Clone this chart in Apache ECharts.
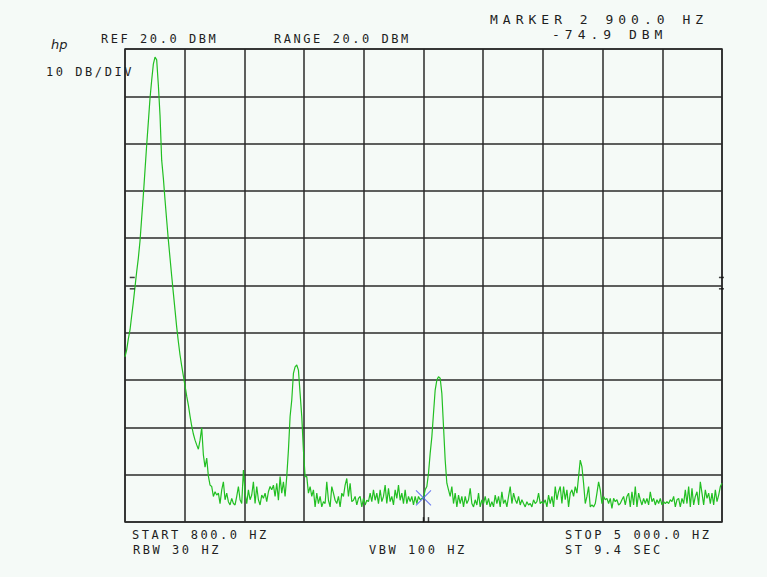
<!DOCTYPE html>
<html><head><meta charset="utf-8">
<script src="https://cdn.jsdelivr.net/npm/echarts@6/dist/echarts.min.js"></script>
<style>
html,body{margin:0;padding:0;background:#f5faf7;}
#c{width:767px;height:577px;}
#c text[style*="Mono"][style*="12px"]{letter-spacing:2.55px;}
#c text[style*="Mono"][style*="13px"]{letter-spacing:5px;}
</style></head><body><div id="c"></div>
<script>
// Sweep settings (Hz) and amplitude scale (dBm)
const START_HZ = 800, STOP_HZ = 5000;
const REF_DBM = 20, BOTTOM_DBM = -80, DB_PER_DIV = 10;

// Trace levels (dBm), equally spaced points across the sweep
const levelsPeak1 = [
-45.1,-43.6,-41.3,-39.4,-36.4,-33.5,-30.3,-27.1,-24.2,-20.6,
-15.7,-10.9,-5.6,-0.3,4.6,9.6,13.4,16.8,18.3,17.7,
12.4,6.0,-3.5,-7.3,-11.9,-16.2,-20.4,-24.2,-28.0,-31.6,
-35.2,-38.8,-41.9,-44.7,-47.0,-49.1,-51.2,-53.4,-55.3,-57.6,
-59.7,-61.4,-62.7,-63.7,-64.6,-62.7,-60.1,-65.8,-68.4,-66.5,
-70.3];
const levelsFloor1 = [
-72.2,-72.5,-74.6,-73.6,-74.3,-73.9,-76.1,-73.2,-71.5,-75.3,
-73.9,-75.7,-76.4,-75.0,-76.1,-76.4,-74.6,-72.5,-75.3,-76.1,
-69.0,-73.9,-76.1,-73.2,-75.3,-74.3,-71.5,-76.1,-72.5,-75.3,
-76.4,-74.3,-75.0,-73.9,-75.7,-73.6];
const levelsPeak2 = [
-72.5,-73.2,-72.2,-74.6,-71.8,-75.4,-70.4,-73.9,-71.5,-74.6,
-70.4,-64.8,-57.7,-54.2,-48.6,-47.2,-46.8,-47.9,-52.8,-57.7,
-64.8,-70.4,-70.4,-73.9,-72.5,-74.6,-73.2,-76.8,-73.9,-76.1,
-74.6,-76.8,-75.7,-76.1,-71.5,-75.4,-76.8,-72.5,-73.9,-75.4,
-76.1,-74.6,-76.8,-73.9,-74.6,-72.2,-70.8,-74.6,-71.8,-75.7,
-75.4,-74.6,-76.4,-75.0,-74.6,-76.8,-75.0,-76.4,-75.4,-75.7,
-73.9,-75.7,-73.2,-75.4,-73.9,-76.1,-73.2,-75.7,-74.6,-72.2,
-76.1,-72.9,-75.7,-74.6,-76.4,-73.2,-75.0,-72.2,-75.4,-73.9,
-76.1,-73.2,-76.1,-74.6,-75.7,-74.6,-76.4,-74.6,-76.1,-74.6];
const levelsPeak3 = [
-75.3,-75.0,-74.9,-73.2,-72.5,-69.7,-65.5,-62.0,-57.0,-52.1,
-50.0,-49.3,-49.6,-52.8,-59.8,-66.9,-71.8,-73.2,-74.6,-72.5,
-76.1,-73.9,-76.8,-74.3,-76.1,-74.6,-76.8,-74.6,-76.1,-75.3,
-72.9,-76.1,-76.8,-75.3,-76.4,-73.9,-76.8,-75.3,-76.1,-74.6,
-76.4,-75.0,-76.8,-75.7,-76.8,-74.3,-76.1,-74.6,-76.8,-73.6,
-76.1,-75.3,-76.8,-74.6,-72.5,-76.1,-73.9,-75.3,-76.1,-74.6,
-76.4,-75.3,-76.1,-76.8,-75.7,-76.4,-76.1,-76.8,-75.3,-76.1,
-75.7,-73.9,-76.1,-75.7,-76.1,-75.3,-76.8,-74.3,-76.1,-74.6,
-76.8,-72.5,-75.3,-73.6,-72.5,-76.1,-72.5,-75.3,-73.2,-76.8];
const levelsPeak4 = [
-73.9,-73.2,-74.6,-72.5,-73.9,-70.4,-66.9,-68.3,-71.8,-76.1,
-74.6,-72.5,-76.8,-76.4,-76.8,-76.1,-73.9,-71.5,-73.2,-76.1,
-74.6,-75.3,-75.0,-76.1,-75.0,-77.1,-75.0,-75.7,-75.3,-76.4,
-76.1,-75.3,-74.6,-76.4,-74.6,-73.9,-76.8,-73.6,-76.4,-72.5,
-76.8,-73.9,-75.3,-76.4,-75.0,-76.1,-75.0,-76.4,-73.6,-75.7,
-75.0,-76.4,-75.3,-76.1,-75.0,-76.4,-75.7,-76.1,-75.7,-76.1,
-75.3,-75.7,-74.6,-76.8,-75.3,-75.0,-76.8,-75.0,-76.1,-73.2,
-76.1,-72.5,-76.8,-72.9,-76.4,-74.6,-73.6,-76.4,-71.5,-73.9,
-76.4,-73.2,-75.0,-73.9,-76.1,-73.9,-76.4,-73.2,-75.7,-74.3,
-72.5,-71.8];

// Marker 2
const markerPoint = [[2900, -74.9]];
const markerTicks = [[2900, -79.5], [2935, -79.5]];
// Reference level tick marks at the frame edges
const refMarks = [[851, -28.3], [851, -30.7], [4996, -28.3], [4996, -30.7]];

// Annotation texts
const labelTexts = ['REF 20.0 DBM', 'RANGE 20.0 DBM', '10 DB/DIV', 'MARKER 2 900.0 HZ', '-74.9 DBM',
  'START 800.0 HZ', 'RBW 30 HZ', 'VBW 100 HZ', 'STOP 5 000.0 HZ', 'ST 9.4 SEC'];

const trace = [].concat(levelsPeak1, levelsFloor1, levelsPeak2, levelsPeak3, levelsPeak4);
const stepHz = (STOP_HZ - START_HZ) / (trace.length - 1);
const traceData = trace.map((v, i) => [START_HZ + i * stepHz, v]);

const FONT_S = '12px "DejaVu Sans Mono"';
const FONT_L = '13px "DejaVu Sans Mono"';
const pos = [
  [101, 38.5, FONT_S], [274, 38.5, FONT_S], [46, 72, FONT_S], [490, 19.5, FONT_L], [552, 34, FONT_L],
  [132, 534.5, FONT_S], [133, 550, FONT_S], [369, 550, FONT_S], [565, 534.5, FONT_S], [565, 550, FONT_S]
];
const textColor = '#1e1e1e';
const graphics = labelTexts.map((t, k) => ({
  type: 'text', x: pos[k][0], y: pos[k][1], silent: true,
  style: { text: t, font: pos[k][2], fill: textColor, align: 'left', verticalAlign: 'middle',
           textAlign: 'left', textVerticalAlign: 'middle' }
}));
graphics.push({
  type: 'text', x: 51, y: 44, silent: true,
  style: { text: 'hp', font: 'italic 13px "DejaVu Sans"', fill: textColor, align: 'left', verticalAlign: 'middle',
           textAlign: 'left', textVerticalAlign: 'middle' }
});

const gridColor = '#2a2a2a';
const chart = echarts.init(document.getElementById('c'), null, { renderer: 'svg' });
chart.setOption({
  backgroundColor: '#f5faf7',
  animation: false,
  grid: { left: 125, right: 45, top: 49, bottom: 55, show: true, borderColor: gridColor, borderWidth: 1.5, backgroundColor: 'transparent' },
  xAxis: [
    { type: 'value', min: START_HZ, max: STOP_HZ, show: false },
    { type: 'value', min: 0, max: 10, interval: 1, position: 'bottom',
      axisLine: { show: false }, axisTick: { show: false }, axisLabel: { show: false },
      splitLine: { show: true, lineStyle: { color: gridColor, width: 1.5 } } }
  ],
  yAxis: { type: 'value', min: BOTTOM_DBM, max: REF_DBM, interval: DB_PER_DIV,
    axisLine: { show: false }, axisTick: { show: false }, axisLabel: { show: false },
    splitLine: { show: true, lineStyle: { color: gridColor, width: 1.5 } } },
  series: [
    { type: 'line', xAxisIndex: 0, data: traceData, showSymbol: false, symbol: 'none', z: 3,
      lineStyle: { color: '#22bf22', width: 1.2 } },
    { type: 'scatter', xAxisIndex: 0, data: markerPoint, z: 4,
      symbol: 'path://M0 0L10 10M10 0L0 10', symbolSize: 15,
      itemStyle: { color: 'none', borderColor: '#4d5ff0', borderWidth: 1.1 } },
    { type: 'scatter', xAxisIndex: 0, data: markerTicks, z: 4, symbol: 'rect', symbolSize: [1.5, 5],
      itemStyle: { color: '#111' } },
    { type: 'scatter', xAxisIndex: 0, data: refMarks, z: 4, symbol: 'rect', symbolSize: [5, 1.5],
      itemStyle: { color: '#111' } }
  ],
  graphic: graphics
});
</script></body></html>
